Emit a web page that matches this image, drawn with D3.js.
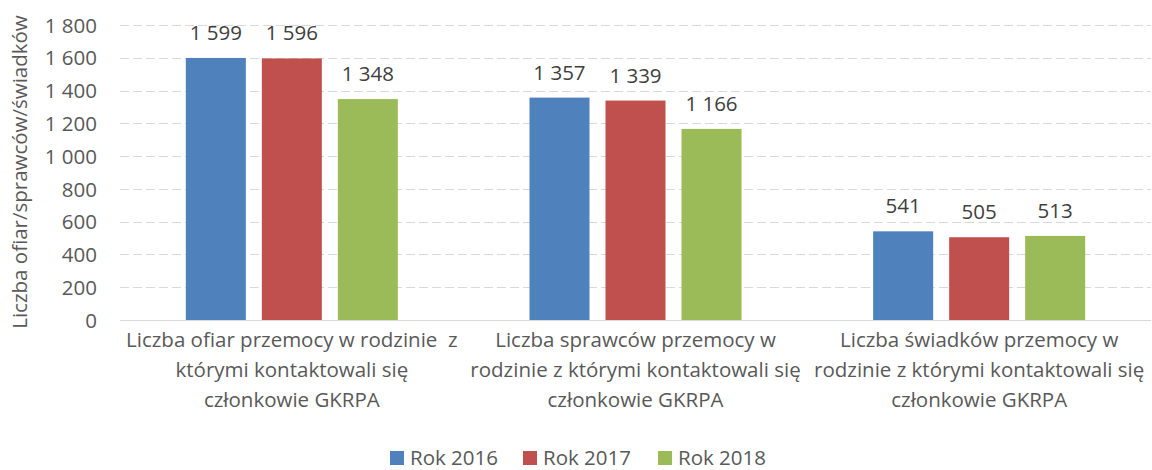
<!DOCTYPE html>
<html>
<head>
<meta charset="utf-8">
<script src="https://cdnjs.cloudflare.com/ajax/libs/d3/7.8.5/d3.min.js"></script>
<style>
  body { margin: 0; background: #fff; }
  text { font-family: "Open Sans", sans-serif; fill: #595959; }
</style>
</head>
<body>
<div id="chart"></div>
<script>
var width = 1152,
    height = 470;

// categories, each label already split into its lines
var categories = ["ofiary", "sprawcy", "swiadkowie"];
var categoryLabels = [
  ["Liczba ofiar przemocy w rodzinie  z", "którymi kontaktowali się", "członkowie GKRPA"],
  ["Liczba sprawców przemocy w", "rodzinie z którymi kontaktowali się", "członkowie GKRPA"],
  ["Liczba świadków przemocy w", "rodzinie z którymi kontaktowali się", "członkowie GKRPA"]
];

var seriesNames = ["Rok 2016", "Rok 2017", "Rok 2018"];
var values2016 = [1599, 1357, 541];
var values2017 = [1596, 1339, 505];
var values2018 = [1348, 1166, 513];
var seriesColors = ["#4F81BD", "#C0504D", "#9BBB59"];

var yTicks = [0, 200, 400, 600, 800, 1000, 1200, 1400, 1600, 1800];
var yTitle = "Liczba ofiar/sprawców/świadków";

var series = [values2016, values2017, values2018];

var fontSize = "20.5px";

// number format with a space as thousands separator
var fmt = d3.formatLocale({decimal: ",", thousands: "\u00a0", grouping: [3], currency: ["", " zł"]}).format(",d");

var svg = d3.select("#chart").append("svg")
  .attr("width", width)
  .attr("height", height);

var x0 = d3.scaleBand()
  .domain(categories)
  .range([120, 1151])
  .paddingInner(0)
  .paddingOuter(0);

var x1 = d3.scaleBand()
  .domain(seriesNames)
  .range([0, x0.bandwidth()])
  .paddingInner(16 / 76)
  .paddingOuter(0.866);

var y = d3.scaleLinear()
  .domain([0, 1800])
  .range([320, 25]);

// gridlines
svg.append("g")
  .selectAll("line")
  .data(yTicks.filter(function(d) { return d > 0; }))
  .enter()
  .append("line")
  .attr("x1", 120)
  .attr("x2", 1151)
  .attr("y1", function(d) { return Math.round(y(d)) + 0.5; })
  .attr("y2", function(d) { return Math.round(y(d)) + 0.5; })
  .attr("stroke", "#d9d9d9")
  .attr("stroke-width", 1)
  .attr("stroke-dasharray", "9,4");

// y axis labels
var yAxis = d3.axisLeft(y).tickValues(yTicks).tickSize(0).tickPadding(0).tickFormat(fmt);
var yg = svg.append("g")
  .attr("transform", "translate(97,0)")
  .call(yAxis);
yg.select(".domain").remove();
yg.selectAll("text")
  .style("font-size", fontSize)
  .style("font-family", "'Open Sans', sans-serif")
  .attr("fill", "#595959")
  .attr("dy", "0.35em");

// bars
var groups = svg.append("g")
  .selectAll("g")
  .data(categories)
  .enter()
  .append("g")
  .attr("transform", function(d) { return "translate(" + x0(d) + ",0)"; });

groups.selectAll("rect")
  .data(function(d, ci) { return series.map(function(s, si) { return {name: seriesNames[si], value: s[ci], i: si}; }); })
  .enter()
  .append("rect")
  .attr("x", function(d) { return x1(d.name); })
  .attr("y", function(d) { return y(d.value); })
  .attr("width", x1.bandwidth())
  .attr("height", function(d) { return y(0) - y(d.value); })
  .attr("fill", function(d) { return seriesColors[d.i]; });

// value labels
groups.selectAll("text.val")
  .data(function(d, ci) { return series.map(function(s, si) { return {name: seriesNames[si], value: s[ci]}; }); })
  .enter()
  .append("text")
  .attr("class", "val")
  .attr("x", function(d) { return x1(d.name) + x1.bandwidth() / 2; })
  .attr("y", function(d) { return y(d.value) - 18; })
  .attr("text-anchor", "middle")
  .style("font-size", fontSize)
  .style("fill", "#404040")
  .text(function(d) { return fmt(d.value); });

// baseline
svg.append("line")
  .attr("x1", 120)
  .attr("x2", 1151)
  .attr("y1", y(0) + 0.5)
  .attr("y2", y(0) + 0.5)
  .attr("stroke", "#d9d9d9")
  .attr("stroke-width", 1);

// category labels
svg.append("g")
  .selectAll("text")
  .data(categories)
  .enter()
  .append("text")
  .attr("text-anchor", "middle")
  .style("font-size", fontSize)
  .attr("transform", function(d) { return "translate(" + (x0(d) + x0.bandwidth() / 2) + ",347)"; })
  .each(function(d, i) {
    var t = d3.select(this);
    categoryLabels[i].forEach(function(line, li) {
      t.append("tspan")
        .attr("x", 0)
        .attr("y", li * 30)
        .attr("xml:space", "preserve")
        .style("white-space", "pre")
        .text(line);
    });
  });

// y axis title
svg.append("text")
  .attr("transform", "translate(27,172) rotate(-90)")
  .attr("text-anchor", "middle")
  .style("font-size", fontSize)
  .text(yTitle);

// legend
var legendX = [390, 523, 658];
var legend = svg.append("g")
  .selectAll("g")
  .data(seriesNames)
  .enter()
  .append("g")
  .attr("transform", function(d, i) { return "translate(" + legendX[i] + ",451)"; });

legend.append("rect")
  .attr("width", 14)
  .attr("height", 14)
  .attr("fill", function(d, i) { return seriesColors[i]; });

legend.append("text")
  .attr("x", 20)
  .attr("y", 14)
  .style("font-size", fontSize)
  .text(function(d) { return d; });
</script>
</body>
</html>
